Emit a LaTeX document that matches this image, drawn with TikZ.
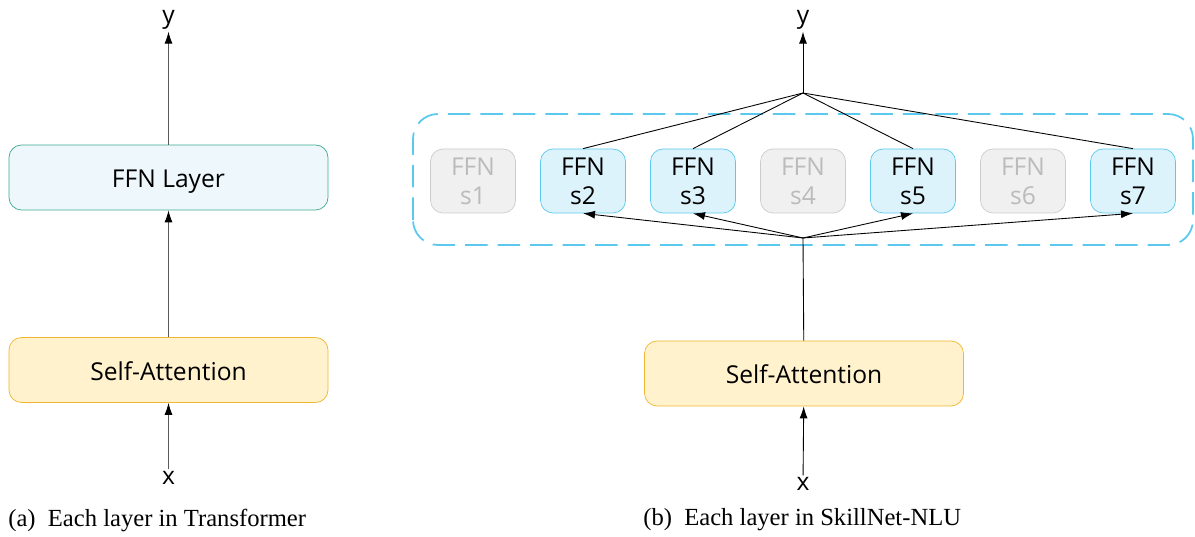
\documentclass[tikz,border=0pt]{standalone}
\usepackage{fontspec}
\setmainfont{Liberation Serif}
\newfontfamily\uifont{Open Sans}
\usetikzlibrary{arrows.meta}
\definecolor{ffnfill}{HTML}{EEF8FC}
\definecolor{ffndraw}{HTML}{3DAA8C}
\definecolor{attfill}{HTML}{FFF2CC}
\definecolor{attdraw}{HTML}{F2B631}
\definecolor{onfill}{HTML}{DDF3FB}
\definecolor{ondraw}{HTML}{5BC8EE}
\definecolor{offfill}{HTML}{F0F0F0}
\definecolor{offdraw}{HTML}{CCCCCC}
\definecolor{offtext}{HTML}{BBBBBB}
\begin{document}
\begin{tikzpicture}[>={Latex[length=2.4mm,width=1.6mm,color=black]}]
        \tikzstyle{layer}=[rounded corners=2.5mm,minimum width=6.38cm,minimum height=1.3cm,text height=14.5pt,text depth=3pt,font=\uifont\fontsize{14}{16}\selectfont]
        \tikzstyle{ffn}=[layer,draw=ffndraw,fill=ffnfill]
        \tikzstyle{att}=[layer,draw=attdraw,fill=attfill]
        \tikzstyle{expert}=[rounded corners=2.5mm,minimum width=1.7cm,minimum height=1.28cm,align=center,inner sep=0pt,font=\uifont\fontsize{14}{16.5}\selectfont]
        \tikzstyle{on}=[expert,draw=ondraw,fill=onfill]
        \tikzstyle{off}=[expert,draw=offdraw,fill=offfill,text=offtext]
        \tikzstyle{io}=[font=\uifont\fontsize{14}{16}\selectfont,inner sep=1pt]
        \tikzstyle{edge}=[draw,black!65,line width=0.5pt]
        \tikzstyle{caption}=[anchor=west,inner sep=0pt,font=\fontsize{14}{16}\selectfont]
        \useasboundingbox (0,0) rectangle (23.9,10.74);
        % (a) transformer layer
        \begin{scope}
          \node [ffn] (ffn) at (3.37,7.19) {FFN Layer};
          \node [att] (att) at (3.37,3.34) {Self-Attention};
          \node [io] (ya) at (3.37,10.34) {y};
          \node [io] (xa) at (3.37,1.18) {x};
          \path[edge,->] (att) -- (ffn);
          \path[edge,->] (ffn) -- (ya);
          \path[edge,->] (xa) -- (att);
          \node [caption] (capa) at (0.16,0.34) {(a)\ \ Each layer in Transformer};
        \end{scope}
        % (b) skillnet layer
        \begin{scope}
          \draw [ondraw,line width=1pt,dash pattern=on 4.5mm off 2mm,rounded corners=5mm] (8.26,5.84) rectangle (23.86,8.46);
          \node [off] (s1) at (9.46,7.12) {FFN\\s1};
          \node [on] (s2) at (11.66,7.12) {FFN\\s2};
          \node [on] (s3) at (13.86,7.12) {FFN\\s3};
          \node [off] (s4) at (16.06,7.12) {FFN\\s4};
          \node [on] (s5) at (18.26,7.12) {FFN\\s5};
          \node [off] (s6) at (20.46,7.12) {FFN\\s6};
          \node [on] (s7) at (22.66,7.12) {FFN\\s7};
          \coordinate (top) at (16.06,8.88);
          \coordinate (bot) at (16.06,5.98);
          \node [att] (attb) at (16.08,3.27) {Self-Attention};
          \node [io] (yb) at (16.06,10.34) {y};
          \node [io] (xb) at (16.06,1.06) {x};
          \path[edge,black,->] (top) -- (yb);
          \path[edge,black] (s2.north) -- (top);
          \path[edge,black] (s3.north) -- (top);
          \path[edge,black] (s5.north) -- (top);
          \path[edge,black] (s7.north) -- (top);
          \path[edge,black] (attb) -- (bot);
          \path[edge,black,->] (bot) -- (s2.south);
          \path[edge,black,->] (bot) -- (s3.south);
          \path[edge,black,->] (bot) -- (s5.south);
          \path[edge,black,->] (bot) -- (s7.south);
          \path[edge,black,->] (xb) -- (attb);
          \node [caption] (capb) at (12.86,0.34) {(b)\ \ Each layer in SkillNet-NLU};
        \end{scope}
\end{tikzpicture}
\end{document}
